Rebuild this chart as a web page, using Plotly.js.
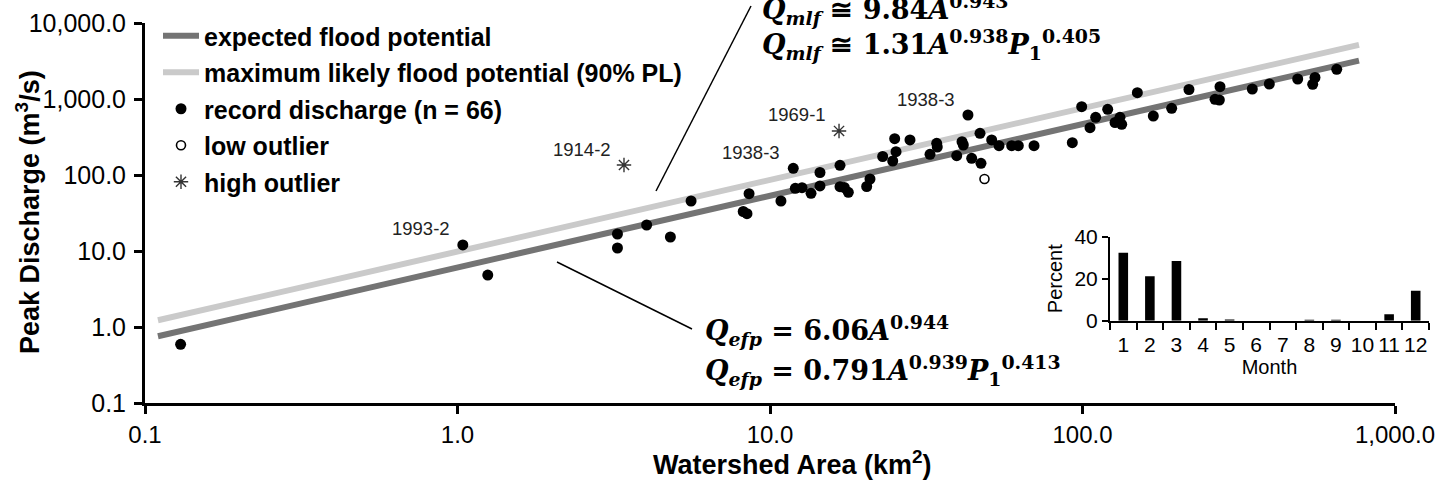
<!DOCTYPE html>
<html>
<head>
<meta charset="utf-8">
<script src="https://cdn.plot.ly/plotly-3.0.1.min.js"></script>
<style>
  html, body { margin: 0; padding: 0; background: #fff; }
  #chart { width: 1443px; height: 489px; }
</style>
</head>
<body>
<div id="chart"></div>
<script>
// ---------------- DATA ----------------
// record discharge (filled circles): watershed area (km2) and peak discharge (m3/s)
const recordArea = [0.130, 1.04, 1.25, 3.25, 3.25, 4.03, 4.80, 5.59, 8.21, 8.44, 8.57, 10.84,
  11.87, 12.05, 12.66, 13.53, 14.45, 14.45, 16.75, 16.75, 17.29, 17.81, 20.39, 20.89,
  22.94, 24.70, 25.06, 25.31, 28.05, 32.51, 34.15, 34.3, 39.58, 41.16, 41.56, 43.0,
  44.2, 46.99, 47.33, 51.21, 54.05, 59.35, 62.32, 69.97, 92.77, 99.4, 105.7, 110.2,
  120.4, 127.1, 131.8, 133.5, 149.8, 168.5, 192.9, 219.1, 265.5, 274.1, 275.4, 349.4,
  396.1, 488.3, 545.3, 554.6, 650.9];
const recordQ = [0.592, 12.0, 4.83, 16.74, 10.95, 21.98, 15.28, 45.5, 33.1, 30.96, 56.7, 45.5,
  122.5, 66.8, 68.1, 57.4, 107.9, 71.7, 134.2, 70.2, 68.5, 59.2, 70.6, 88.6,
  175.1, 152.8, 300.4, 202.6, 288.9, 187.2, 261.3, 233.5, 179.5, 274.3, 248.2, 615.8,
  165.9, 353.9, 142.6, 288.9, 242.9, 242.9, 242.9, 242.9, 266.1, 792, 419.2, 574.4,
  731.8, 490.7, 574.4, 464.6, 1210, 597.6, 754.6, 1334, 991, 970, 1452, 1354,
  1575, 1833, 1561, 1919, 2460];
const lowOutlierArea = [48.57];
const lowOutlierQ = [88.6];
const highOutlierArea = [3.41, 16.63];
const highOutlierQ = [135.4, 379.6];

// fitted lines (end points)
const lineArea = [0.11, 767];
const efpQ = [0.755, 3203];
const mlfQ = [1.227, 5166];

// event labels
const eventLabels = ['1993-2', '1914-2', '1938-3', '1969-1', '1938-3'];
const eventArea = [1.04, 3.41, 11.87, 16.63, 43.0];
const eventQ = [12.0, 135.4, 122.5, 379.6, 615.8];

// inset: month distribution
const months = ['1','2','3','4','5','6','7','8','9','10','11','12'];
const monthPct = [32.3, 21.2, 28.4, 1.2, 0.6, 0, 0, 0.5, 0.5, 0, 3.1, 14.3];

// axis ticks
const xTickVals = [0.1, 1, 10, 100, 1000];
const xTickText = ['0.1', '1.0', '10.0', '100.0', '1,000.0'];
const yTickVals = [0.1, 1, 10, 100, 1000, 10000];
const yTickText = ['0.1', '1.0', '10.0', '100.0', '1,000.0', '10,000.0'];

// ---------------- CHART ----------------
const SANS = 'Arial, "Liberation Sans", sans-serif';
const SERIF = '"DejaVu Serif", "Liberation Serif", serif';

const traces = [
  { x: lineArea, y: efpQ, type: 'scatter', mode: 'lines', name: 'expected flood potential',
    line: { color: '#747474', width: 6 }, legendgroup: 'a' },
  { x: lineArea, y: mlfQ, type: 'scatter', mode: 'lines', name: 'maximum likely flood potential (90% PL)',
    line: { color: '#cacaca', width: 6 }, legendgroup: 'b' },
  { x: recordArea, y: recordQ, type: 'scatter', mode: 'markers', name: 'record discharge (n = 66)',
    marker: { color: '#000', size: 11, symbol: 'circle' }, legendgroup: 'c' },
  { x: lowOutlierArea, y: lowOutlierQ, type: 'scatter', mode: 'markers', name: 'low outlier',
    marker: { color: '#fff', size: 9, symbol: 'circle', line: { color: '#000', width: 1.6 } }, legendgroup: 'd' },
  { x: highOutlierArea, y: highOutlierQ, type: 'scatter', mode: 'markers', name: 'high outlier',
    marker: { color: '#333', size: 12, symbol: 'asterisk-open', line: { color: '#333', width: 1.4 } }, legendgroup: 'e' },
  { x: months, y: monthPct, type: 'bar', xaxis: 'x2', yaxis: 'y2', showlegend: false,
    marker: { color: '#000' }, width: 0.36 }
];

const W = 1443, ML = 145, MR = 10, MT = 23, MB = 86;
const PW = W - ML - MR;      // paper width in px
const PH = 489 - MT - MB;    // paper height in px
const px = v => (v - ML) / PW;
const py = v => (403 - v) / PH;

const annotations = [];
eventLabels.forEach((t, i) => {
  annotations.push({ x: Math.log10(eventArea[i]), y: Math.log10(eventQ[i]), xref: 'x', yref: 'y',
    text: t, showarrow: false, xshift: -42, yshift: 16,
    font: { family: SANS, size: 18.5, color: '#222' } });
});
// equations
const eq = (txt, x, y) => ({ x: px(x), y: py(y), xref: 'paper', yref: 'paper', xanchor: 'left', yanchor: 'middle',
  text: txt, showarrow: false, font: { family: SERIF, size: 27, color: '#000' } });
annotations.push(eq('<b><i>Q</i><sub><i>mlf</i></sub> \u2245 9.84<i>A</i><sup>0.943</sup></b>', 760, 9));
annotations.push(eq('<b><i>Q</i><sub><i>mlf</i></sub> \u2245 1.31<i>A</i><sup>0.938</sup><i>P</i><sub>1</sub><sup>0.405</sup></b>', 760, 45));
annotations.push(eq('<b><i>Q</i><sub><i>efp</i></sub> = 6.06<i>A</i><sup>0.944</sup></b>', 703, 330));
annotations.push(eq('<b><i>Q</i><sub><i>efp</i></sub> = 0.791<i>A</i><sup>0.939</sup><i>P</i><sub>1</sub><sup>0.413</sup></b>', 703, 370));
// axis titles
annotations.push({ x: px(28), y: py(212), xref: 'paper', yref: 'paper', xanchor: 'center', yanchor: 'middle',
  textangle: -90, showarrow: false,
  text: '<b>Peak Discharge (m<sup>3</sup>/s)</b>', font: { family: SANS, size: 27, color: '#000' } });
annotations.push({ x: px(793), y: py(463), xref: 'paper', yref: 'paper', xanchor: 'center', yanchor: 'middle',
  showarrow: false,
  text: '<b>Watershed Area (km<sup>2</sup>)</b>', font: { family: SANS, size: 27, color: '#000' } });

const shapes = [
  { type: 'line', xref: 'paper', yref: 'paper', x0: px(656), y0: py(191), x1: px(751), y1: py(6),
    line: { color: '#000', width: 1.5 } },
  { type: 'line', xref: 'paper', yref: 'paper', x0: px(557), y0: py(262), x1: px(692), y1: py(329),
    line: { color: '#000', width: 1.5 } }
];

const layout = {
  width: 1443, height: 489,
  margin: { l: ML, r: MR, t: MT, b: MB },
  paper_bgcolor: '#fff', plot_bgcolor: 'rgba(0,0,0,0)',
  showlegend: true,
  legend: { x: px(158), y: py(13), xanchor: 'left', yanchor: 'top', bgcolor: 'rgba(0,0,0,0)',
    font: { family: SANS, size: 25, color: '#000', weight: 'bold' },
    traceorder: 'grouped', tracegroupgap: 1, itemwidth: 36 },
  xaxis: { type: 'log', range: [-1, 3], domain: [0, 1250 / PW],
    tickvals: xTickVals, ticktext: xTickText, showgrid: false, zeroline: false,
    showline: true, linecolor: '#000', linewidth: 3, ticks: 'outside', ticklen: 8, tickwidth: 3, tickcolor: '#000',
    tickfont: { family: SANS, size: 24, color: '#000' }, ticklabelstandoff: 0 },
  yaxis: { type: 'log', range: [-1, 4],
    tickvals: yTickVals, ticktext: yTickText, showgrid: false, zeroline: false,
    showline: true, linecolor: '#000', linewidth: 3, ticks: 'outside', ticklen: 8, tickwidth: 3, tickcolor: '#000',
    tickfont: { family: SANS, size: 25, color: '#000' }, ticklabelstandoff: 3 },
  xaxis2: { type: 'category', domain: [px(1110), px(1429)], anchor: 'y2', range: [-0.5, 11.5],
    tickson: 'boundaries', ticks: 'outside', ticklen: 7, tickwidth: 2, tickcolor: '#000', tickangle: 0,
    showline: true, linecolor: '#000', linewidth: 2, showgrid: false, ticklabelstandoff: 4,
    tickfont: { family: SANS, size: 21, color: '#000' },
    title: { text: 'Month', font: { family: SANS, size: 20, color: '#000' }, standoff: 4 } },
  yaxis2: { domain: [py(320.7), py(236.7)], anchor: 'x2', range: [0, 40], tickvals: [0, 20, 40],
    ticks: 'outside', ticklen: 6, tickwidth: 2, tickcolor: '#000',
    showline: true, linecolor: '#000', linewidth: 2, showgrid: false, zeroline: false,
    tickfont: { family: SANS, size: 21, color: '#000' },
    title: { text: 'Percent', font: { family: SANS, size: 20, color: '#000' }, standoff: 6 } },
  annotations: annotations,
  shapes: shapes
};

Plotly.newPlot('chart', traces, layout, { displayModeBar: false, staticPlot: true });
</script>
</body>
</html>
